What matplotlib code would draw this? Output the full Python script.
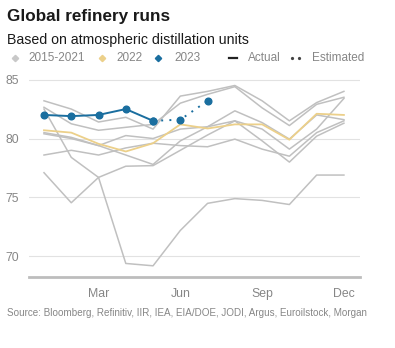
import matplotlib
matplotlib.use("Agg")
import matplotlib.pyplot as plt
from matplotlib.lines import Line2D

plt.rcParams['font.family'] = ['Liberation Sans', 'DejaVu Sans']

months = ["Jan", "Feb", "Mar", "Apr", "May", "Jun", "Jul", "Aug", "Sep", "Oct", "Nov", "Dec"]
tick_months = ["Mar", "Jun", "Sep", "Dec"]

# 2015-2021 runs (7 grey lines), %
hist_a = [83.2, 82.5, 81.4, 81.8, 80.8, 83.6, 84.0, 84.5, 83.2, 81.5, 83.05, 84.0]
hist_b = [82.65, 81.25, 80.7, 80.95, 81.2, 83.0, 83.75, 84.4, 82.6, 81.1, 82.9, 83.5]
hist_c = [82.5, 78.4, 76.7, 69.4, 69.2, 72.2, 74.5, 74.9, 74.75, 74.4, 76.9, 76.9]
hist_d = [80.5, 80.1, 79.4, 78.6, 77.8, 79.8, 81.0, 82.35, 81.35, 79.95, 82.0, 81.6]
hist_e = [80.4, 80.0, 79.4, 80.25, 80.0, 80.8, 81.0, 81.5, 80.8, 79.1, 80.8, 83.4]
hist_f = [78.6, 79.0, 78.6, 79.2, 79.6, 79.4, 79.3, 79.95, 79.1, 78.5, 80.5, 81.5]
hist_g = [77.1, 74.55, 76.7, 77.65, 77.7, 79.0, 80.3, 81.5, 79.8, 78.0, 80.2, 81.3]
history = [hist_a, hist_b, hist_c, hist_d, hist_e, hist_f, hist_g]

runs_2022 = [80.7, 80.5, 79.55, 78.9, 79.6, 81.2, 80.85, 81.2, 81.2, 79.9, 82.1, 82.0]

actual_months_2023 = ["Jan", "Feb", "Mar", "Apr", "May"]
actual_2023 = [82.0, 81.9, 82.0, 82.5, 81.5]
est_months_2023 = ["May", "Jun", "Jul"]
est_2023 = [81.5, 81.6, 83.2]

GREY = "#c0c0c0"
GOLD = "#ecd08a"
BLUE = "#1a6e9f"
TXT = "#868686"

fig = plt.figure(figsize=(3.95, 3.48), dpi=100)
ax = fig.add_axes([29/395, 71/348, 331/395, 198/348])

idx = {m: i for i, m in enumerate(months)}
xs = list(range(len(months)))

for h in history:
    ax.plot(xs, h, color=GREY, lw=1.1, zorder=2, solid_joinstyle='round')
ax.plot(xs, runs_2022, color=GOLD, lw=1.3, zorder=3)
ax.plot([idx[m] for m in actual_months_2023], actual_2023, color=BLUE, lw=1.4,
        marker='o', ms=4.8, zorder=5)
ax.plot([idx[m] for m in est_months_2023], est_2023, color=BLUE, lw=1.4,
        linestyle=(0, (1, 3.2)), marker='o', ms=4.8, zorder=4)

ax.set_xlim(-0.55, 11.59)
ax.set_ylim(68.25, 85.05)
ax.set_yticks([70, 75, 80, 85])
ax.set_xticks([idx[m] for m in tick_months])
ax.set_xticklabels(tick_months)
ax.tick_params(axis='both', length=0, labelsize=8.8, labelcolor=TXT)
ax.tick_params(axis='y', pad=7)
ax.tick_params(axis='x', pad=8)
ax.grid(axis='y', color="#e2e2e2", lw=0.8, zorder=0)
for s in ["top", "right", "left"]:
    ax.spines[s].set_visible(False)
ax.spines["bottom"].set_color("#bdbdbd")
ax.spines["bottom"].set_linewidth(2.0)
ax.set_facecolor("white")

H = 348.0
W = 395.0
fig.text(7/W, 1 - 16/H, "Global refinery runs", fontsize=12.3, fontweight='bold',
         color="#1a1a1a", va='center', ha='left')
fig.text(7/W, 1 - 40/H, "Based on atmospheric distillation units", fontsize=10.2,
         color="#1a1a1a", va='center', ha='left')

ly = 1 - 58/H
fig.add_artist(Line2D([15/W], [ly], marker='D', ms=3.2, color="#c8c8c8", transform=fig.transFigure))
fig.text(28/W, ly, "2015-2021", fontsize=8.5, color=TXT, va='center', ha='left')
fig.add_artist(Line2D([102/W], [ly], marker='D', ms=3.2, color=GOLD, transform=fig.transFigure))
fig.text(116/W, ly, "2022", fontsize=8.5, color=TXT, va='center', ha='left')
fig.add_artist(Line2D([158/W], [ly], marker='D', ms=3.2, color=BLUE, transform=fig.transFigure))
fig.text(174/W, ly, "2023", fontsize=8.5, color=TXT, va='center', ha='left')
fig.add_artist(Line2D([229/W, 237/W], [ly, ly], color="#222222", lw=1.6, transform=fig.transFigure))
fig.text(248/W, ly, "Actual", fontsize=8.5, color=TXT, va='center', ha='left')
fig.add_artist(Line2D([292/W, 299/W], [ly, ly], color="#444444", lw=0, marker='o', ms=1.3,
                      transform=fig.transFigure))
fig.text(312/W, ly, "Estimated", fontsize=8.5, color=TXT, va='center', ha='left')

fig.text(7/W, 1 - 313/H, "Source: Bloomberg, Refinitiv, IIR, IEA, EIA/DOE, JODI, Argus, Euroilstock, Morgan",
         fontsize=7.1, color=TXT, va='center', ha='left')

fig.savefig("out.png", dpi=100, facecolor="white")
